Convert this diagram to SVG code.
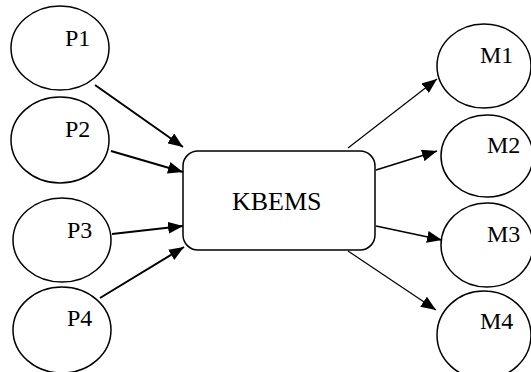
<svg xmlns="http://www.w3.org/2000/svg" width="531" height="372" viewBox="0 0 531 372">
<style>
.n{fill:#fff;stroke:#000;stroke-width:1.5}
.t{font-family:"Liberation Serif","Times New Roman",serif;font-size:24px;fill:#000}
.k{font-size:26px}
.c{stroke:#000;fill:none}
.w2{stroke-width:2}
.w15{stroke-width:1.6}
.w1{stroke-width:1.2}
</style>
<defs>
<marker id="ah" markerUnits="userSpaceOnUse" markerWidth="16" markerHeight="12" refX="15" refY="6" orient="auto"><path d="M0,0 L15,6 L0,12 z" fill="#000"/></marker>
</defs>
<rect width="531" height="372" fill="#fff"/>
<g id="P1"><ellipse class="n" cx="60" cy="48" rx="49" ry="42"/><text class="t" x="65" y="46">P1</text></g>
<g id="P2"><ellipse class="n" cx="60" cy="140" rx="49" ry="43"/><text class="t" x="65" y="137">P2</text></g>
<g id="P3"><ellipse class="n" cx="62" cy="240" rx="49" ry="42"/><text class="t" x="67" y="238">P3</text></g>
<g id="P4"><ellipse class="n" cx="62" cy="330" rx="49" ry="43"/><text class="t" x="67" y="326">P4</text></g>
<g id="KBEMS"><rect class="n" x="183" y="151" width="192" height="99" rx="15"/><text class="t k" x="232" y="210">KBEMS</text></g>
<g id="M1"><ellipse class="n" cx="484" cy="66" rx="47" ry="42"/><text class="t" x="480" y="63">M1</text></g>
<g id="M2"><ellipse class="n" cx="487" cy="156" rx="46" ry="41"/><text class="t" x="487" y="153">M2</text></g>
<g id="M3"><ellipse class="n" cx="487" cy="245" rx="46" ry="42"/><text class="t" x="487" y="242">M3</text></g>
<g id="M4"><ellipse class="n" cx="484" cy="335" rx="47" ry="44"/><text class="t" x="480" y="329">M4</text></g>
<g id="connectors">
<line class="c w2" x1="95" y1="85" x2="183" y2="147" marker-end="url(#ah)"/>
<line class="c w2" x1="111" y1="151" x2="183" y2="172" marker-end="url(#ah)"/>
<line class="c w2" x1="112" y1="234" x2="183" y2="226" marker-end="url(#ah)"/>
<line class="c w2" x1="100" y1="298" x2="184" y2="247" marker-end="url(#ah)"/>
<line class="c w1" x1="348" y1="148" x2="437" y2="79" marker-end="url(#ah)"/>
<line class="c w15" x1="376" y1="170" x2="437" y2="151" marker-end="url(#ah)"/>
<line class="c w15" x1="376" y1="226" x2="442" y2="240" marker-end="url(#ah)"/>
<line class="c w1" x1="348" y1="251" x2="436" y2="310" marker-end="url(#ah)"/>
</g>
</svg>
